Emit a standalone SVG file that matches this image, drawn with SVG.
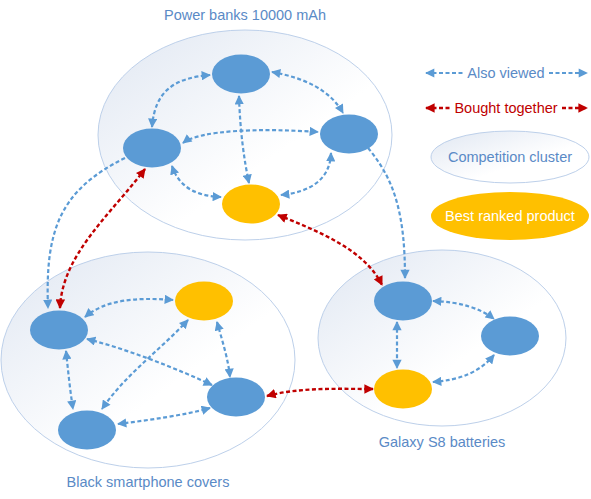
<svg xmlns="http://www.w3.org/2000/svg" width="591" height="499" viewBox="0 0 591 499">
<defs>
<linearGradient id="cl" x1="0" y1="0" x2="1" y2="1">
<stop offset="0" stop-color="#E0E7F2"/>
<stop offset="0.6" stop-color="#FFFFFF"/>
<stop offset="1" stop-color="#FFFFFF"/>
</linearGradient>
<marker id="ab" viewBox="0 0 10 10" refX="9" refY="5" markerWidth="4.4" markerHeight="4.2" orient="auto-start-reverse" markerUnits="strokeWidth">
<path d="M0,0 L10,5 L0,10 z" fill="#5B9BD5"/>
</marker>
<marker id="ar" viewBox="0 0 10 10" refX="9" refY="5" markerWidth="4.2" markerHeight="4" orient="auto-start-reverse" markerUnits="strokeWidth">
<path d="M0,0 L10,5 L0,10 z" fill="#C00000"/>
</marker>
</defs>
<style>
.cluster{fill:url(#cl);stroke:#BDD0EA;stroke-width:1}
.nb{fill:#5B9BD5}
.ny{fill:#FFC000}
.t{font-family:"Liberation Sans",Arial,sans-serif;font-size:14.5px;fill:#5A8AC6;text-anchor:middle}
.b{fill:none;stroke:#5B9BD5;stroke-width:2.2;stroke-dasharray:4 2.5}
.r{fill:none;stroke:#C00000;stroke-width:2.4;stroke-dasharray:4 2.5}
.bb{marker-start:url(#ab);marker-end:url(#ab)}
.be{marker-end:url(#ab)}
.rr{marker-start:url(#ar);marker-end:url(#ar)}
</style>
<rect width="591" height="499" fill="#FFFFFF"/>

<g id="cluster-power-banks">
<ellipse class="cluster" cx="245" cy="135" rx="147" ry="105"/>
<text class="t" x="245" y="20">Power banks 10000 mAh</text>
</g>
<g id="cluster-black-covers">
<ellipse class="cluster" cx="148" cy="360" rx="147" ry="108"/>
<text class="t" x="148" y="487">Black smartphone covers</text>
</g>
<g id="cluster-galaxy">
<ellipse class="cluster" cx="442" cy="338" rx="124" ry="88"/>
<text class="t" x="442" y="447">Galaxy S8 batteries</text>
</g>

<g id="connectors">
<path class="b bb" d="M152,127 C155,90 175,78 210,75"/>
<path class="b bb" d="M272,72 C305,78 330,90 343,113"/>
<path class="b bb" d="M239,96 C240,130 244,160 249,183"/>
<path class="b bb" d="M183,143 C200,130 260,128 318,132"/>
<path class="b bb" d="M172,166 C180,190 200,196 221,197"/>
<path class="b bb" d="M331,153 C330,180 310,192 281,195"/>
<path class="b bb" d="M85,317 C105,300 135,297 173,300"/>
<path class="b bb" d="M87,339 C130,350 180,370 212,385"/>
<path class="b bb" d="M217,322 C222,340 228,358 230,377"/>
<path class="b bb" d="M188,320 C160,350 125,375 102,409"/>
<path class="b bb" d="M66,351 C68,370 70,390 73,409"/>
<path class="b bb" d="M118,424 C150,420 185,415 210,408"/>
<path class="b bb" d="M433,301 C460,302 480,308 494,319"/>
<path class="b bb" d="M397,322 C397,338 397,352 397,368"/>
<path class="b bb" d="M494,355 C480,372 460,380 433,382"/>
<path class="b be" d="M125,158 C60,190 45,230 48,308"/>
<path class="b be" d="M368,148 C395,180 405,215 405,278"/>
<path class="r rr" d="M145,169 C110,215 62,255 60,308"/>
<path class="r rr" d="M278,215 C320,232 365,250 382,285"/>
<path class="r rr" d="M267,396 C300,387 340,389 373,389"/>
<path class="b" d="M426,73 L464,73" style="marker-start:url(#ab)"/>
<path class="b" d="M549,73 L587,73" style="marker-end:url(#ab)"/>
<path class="r" d="M426,108 L451,108" style="marker-start:url(#ar)"/>
<path class="r" d="M562,108 L587,108" style="marker-end:url(#ar)"/>
</g>

<g id="node-pb-top"><ellipse class="nb" cx="241" cy="74" rx="29" ry="19.5"/></g>
<g id="node-pb-left"><ellipse class="nb" cx="152" cy="148" rx="29" ry="19.5"/></g>
<g id="node-pb-right"><ellipse class="nb" cx="349" cy="134" rx="29" ry="19.5"/></g>
<g id="node-pb-best"><ellipse class="ny" cx="251" cy="204" rx="29" ry="19.5"/></g>

<g id="node-bc-left"><ellipse class="nb" cx="59" cy="330" rx="29" ry="19.5"/></g>
<g id="node-bc-best"><ellipse class="ny" cx="204" cy="301" rx="29" ry="19.5"/></g>
<g id="node-bc-right"><ellipse class="nb" cx="236" cy="397" rx="29" ry="19.5"/></g>
<g id="node-bc-bottom"><ellipse class="nb" cx="87" cy="430" rx="29" ry="19.5"/></g>

<g id="node-gs-top"><ellipse class="nb" cx="403" cy="301" rx="29" ry="19.5"/></g>
<g id="node-gs-right"><ellipse class="nb" cx="510" cy="336" rx="29" ry="19.5"/></g>
<g id="node-gs-best"><ellipse class="ny" cx="403" cy="389" rx="29" ry="19.5"/></g>

<g id="legend-also-viewed"><text class="t" x="506" y="78">Also viewed</text></g>
<g id="legend-bought-together"><text class="t" x="506" y="113" style="fill:#C00000">Bought together</text></g>
<g id="legend-cluster">
<ellipse class="cluster" cx="510" cy="157" rx="79" ry="26"/>
<text class="t" x="510" y="162">Competition cluster</text>
</g>
<g id="legend-best">
<ellipse class="ny" cx="510" cy="216" rx="79" ry="24"/>
<text class="t" x="510" y="221" style="fill:#FFFFFF">Best ranked product</text>
</g>
</svg>
